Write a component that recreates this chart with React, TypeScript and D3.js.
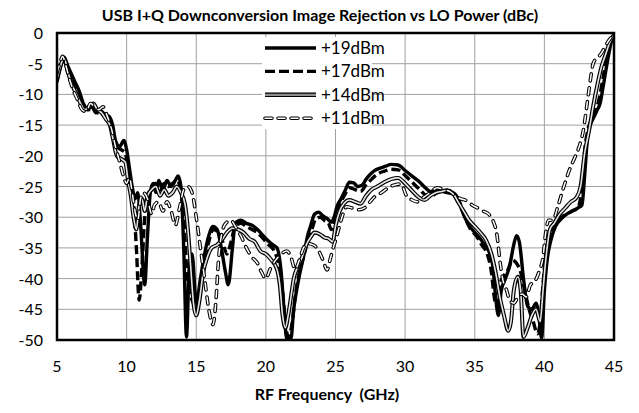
import React, { useEffect, useRef } from "react";
import * as d3 from "d3";

const xTicks = [5, 10, 15, 20, 25, 30, 35, 40, 45];
const yTicks = [0, -5, -10, -15, -20, -25, -30, -35, -40, -45, -50];
const seriesNames = ["+19dBm", "+17dBm", "+14dBm", "+11dBm"];

// [GHz, dBc]
const p19 = [
  [5.0, -8], [5.2, -6], [5.5, -4], [5.8, -5.5], [6.0, -6.5], [6.3, -8], [6.6, -9.5], [6.9, -11.5], [7.2, -12.5], [7.5, -12],
  [7.8, -13], [8.1, -12.5], [8.4, -13.5], [8.7, -13.5], [9.0, -15], [9.2, -17.5], [9.5, -18.5], [9.8, -17.5], [10.0, -19],
  [10.2, -22], [10.4, -25], [10.6, -27], [10.8, -26], [11.0, -31], [11.3, -41], [11.5, -33], [11.7, -26], [11.9, -24.5],
  [12.1, -26], [12.3, -24], [12.6, -25.5], [12.9, -24], [13.2, -25], [13.5, -24], [13.7, -23.3], [13.9, -25], [14.1, -35],
  [14.3, -49.5], [14.5, -38], [14.7, -36], [15.0, -44], [15.3, -40], [15.6, -36], [15.9, -33], [16.2, -31.5], [16.5, -32],
  [16.8, -35], [17.1, -39], [17.3, -41], [17.6, -35], [17.8, -31], [18.2, -30.5], [18.6, -31], [19.0, -31.3], [19.4, -32],
  [19.8, -33], [20.1, -33.7], [20.5, -34.5], [20.8, -35], [21.1, -39], [21.3, -45], [21.5, -49.8], [21.8, -49.8], [22.0, -45],
  [22.2, -42], [22.5, -38.5], [22.7, -36.5], [23.0, -33], [23.2, -31.5], [23.5, -29.5], [23.8, -29.2], [24.1, -29.8],
  [24.4, -30.2], [24.7, -30.8], [24.9, -30], [25.1, -28.3], [25.4, -27], [25.7, -25.6], [26.0, -24.3], [26.3, -24.4],
  [26.6, -25], [26.9, -24.8], [27.2, -23.8], [27.5, -23], [27.8, -22.4], [28.2, -22], [28.6, -21.7], [29.0, -21.4],
  [29.5, -21.5], [30.0, -22.4], [30.5, -23.3], [31.0, -24.2], [31.5, -25.3], [31.8, -25.8], [32.2, -25.6], [32.6, -25.7],
  [33.0, -26], [33.4, -26], [33.8, -27], [34.1, -29], [34.5, -31], [35.0, -32.5], [35.4, -33.5], [35.7, -34.5], [36.0, -35.5],
  [36.3, -38], [36.5, -43], [36.7, -46], [36.9, -42], [37.2, -40], [37.5, -38], [37.8, -34.5], [38.0, -33], [38.2, -34],
  [38.5, -40], [38.8, -44.5], [39.1, -45], [39.4, -44], [39.6, -46], [39.8, -49.7], [40.0, -42], [40.2, -37], [40.5, -33.5],
  [40.8, -31.5], [41.2, -30.3], [41.6, -29.5], [42.0, -29], [42.4, -28.5], [42.7, -28], [42.9, -23], [43.1, -17], [43.3, -15],
  [43.6, -13.5], [43.8, -12.5], [44.0, -11.5], [44.2, -9], [44.5, -5], [44.8, -1.5], [45.0, -0.3],
];

const p17 = [
  [5.0, -7], [5.3, -5], [5.5, -4.5], [5.8, -6], [6.1, -7.5], [6.4, -9], [6.7, -10.5], [7.0, -12], [7.3, -12.5], [7.6, -12],
  [7.9, -13], [8.2, -12.8], [8.5, -13.5], [8.8, -14], [9.0, -16], [9.3, -18.5], [9.6, -19], [9.9, -19.5], [10.1, -22.5],
  [10.3, -25.5], [10.5, -28], [10.7, -35], [10.9, -43.5], [11.1, -38], [11.3, -30], [11.5, -27], [11.8, -25], [12.1, -24.5],
  [12.4, -25.5], [12.7, -24.5], [13.0, -25], [13.3, -24.5], [13.6, -24], [13.9, -25.5], [14.1, -30], [14.3, -38], [14.5, -42],
  [14.8, -44], [15.0, -45], [15.3, -42], [15.6, -37], [15.9, -34], [16.2, -32], [16.6, -32.5], [16.9, -34], [17.2, -36],
  [17.5, -34], [17.8, -31.5], [18.2, -31], [18.6, -31.5], [19.0, -32], [19.4, -32.5], [19.8, -33.5], [20.2, -34.5],
  [20.6, -35.5], [20.9, -37.5], [21.2, -42], [21.4, -47], [21.6, -49.5], [21.9, -47], [22.1, -43], [22.4, -39], [22.7, -36.5],
  [23.0, -34], [23.3, -32], [23.6, -30.2], [23.9, -30], [24.2, -30.5], [24.5, -31], [24.7, -32], [24.9, -31], [25.1, -29],
  [25.4, -27.5], [25.7, -26.2], [26.0, -25.2], [26.4, -25.5], [26.8, -25.8], [27.2, -24.7], [27.6, -23.8], [28.0, -23],
  [28.5, -22.5], [29.0, -22.2], [29.5, -22.3], [30.0, -23.2], [30.5, -24.3], [31.0, -25.4], [31.5, -26.4], [31.9, -26.5],
  [32.3, -26], [32.7, -25.8], [33.1, -26], [33.5, -26.3], [33.9, -27.5], [34.3, -30], [34.7, -32], [35.1, -33], [35.5, -34.5],
  [35.9, -36], [36.2, -39], [36.4, -43], [36.6, -44.5], [36.8, -41], [37.1, -39.5], [37.4, -38.5], [37.7, -37], [38.0, -37.5],
  [38.3, -39], [38.6, -42], [38.9, -45], [39.2, -47], [39.5, -49], [39.7, -47], [39.9, -41], [40.1, -36], [40.4, -33],
  [40.8, -31], [41.2, -30], [41.6, -29.5], [42.0, -29], [42.4, -28.5], [42.7, -25], [42.9, -19], [43.1, -16], [43.4, -14],
  [43.7, -12.5], [43.9, -11], [44.2, -7.5], [44.5, -3.5], [44.8, -1], [45.0, -0.3],
];

const p14 = [
  [5.0, -7.5], [5.3, -5], [5.5, -4], [5.8, -6.5], [6.1, -8.5], [6.4, -10], [6.7, -11.5], [7.0, -12.5], [7.3, -12], [7.6, -11.5],
  [7.9, -12.5], [8.2, -13], [8.5, -14], [8.8, -15], [9.0, -17], [9.3, -20], [9.6, -20.5], [9.9, -21], [10.1, -24], [10.3, -26.5],
  [10.5, -30], [10.7, -32], [10.9, -28], [11.1, -27], [11.3, -29], [11.5, -26.5], [11.8, -25.5], [12.1, -25], [12.4, -26.5],
  [12.7, -25.5], [13.0, -26.5], [13.3, -26], [13.6, -25], [13.9, -26], [14.2, -28], [14.4, -32], [14.6, -38], [14.8, -44],
  [15.0, -46], [15.2, -44], [15.5, -39], [15.8, -36.5], [16.1, -35], [16.5, -34.5], [16.9, -33.5], [17.2, -32.5], [17.6, -31.8],
  [18.0, -32], [18.4, -32.5], [18.8, -33.5], [19.2, -34], [19.6, -35.5], [20.0, -36], [20.4, -37], [20.8, -38.5], [21.0, -41],
  [21.2, -46], [21.4, -48], [21.6, -46], [21.8, -43], [22.0, -40], [22.3, -38], [22.6, -36.5], [22.9, -34.5], [23.2, -33.3],
  [23.5, -32.5], [23.9, -32.8], [24.2, -33.3], [24.5, -33.5], [24.8, -34], [25.0, -31.5], [25.3, -29], [25.6, -27.8],
  [26.0, -27.2], [26.4, -27.5], [26.8, -27.8], [27.2, -26.5], [27.6, -25.5], [28.0, -25], [28.5, -24.3], [29.0, -23.8],
  [29.5, -23.6], [30.0, -24.5], [30.5, -25.7], [31.0, -26.8], [31.4, -27.2], [31.8, -26.5], [32.2, -26], [32.6, -25.8],
  [33.0, -25.6], [33.4, -26], [33.8, -27.5], [34.2, -29], [34.6, -30.5], [35.0, -31.5], [35.4, -32.5], [35.8, -33.7],
  [36.2, -36], [36.5, -39], [36.8, -43], [37.1, -46], [37.4, -48.5], [37.6, -47], [37.8, -42], [38.1, -39.7], [38.3, -42],
  [38.5, -49.5], [38.8, -48], [39.1, -46], [39.4, -45], [39.7, -47], [39.9, -42], [40.1, -37], [40.4, -32], [40.7, -31],
  [41.1, -29.5], [41.5, -28.5], [41.9, -27.5], [42.3, -26.8], [42.6, -25], [42.9, -19.5], [43.2, -16], [43.5, -12],
  [43.8, -8.5], [44.1, -5.5], [44.4, -3.5], [44.7, -1.5], [45.0, -0.3],
];

const p11 = [
  [5.0, -6.5], [5.2, -5], [5.4, -3.8], [5.6, -5], [5.9, -7.5], [6.2, -9.5], [6.5, -11], [6.8, -12.5], [7.1, -12.8], [7.4, -11.5],
  [7.7, -12], [8.0, -12.5], [8.3, -12], [8.6, -13.5], [8.9, -15.5], [9.2, -18.5], [9.5, -21], [9.8, -23.5], [10.0, -24.5],
  [10.2, -23.5], [10.4, -26], [10.6, -29], [10.8, -30.5], [11.0, -27], [11.2, -26], [11.5, -27], [11.8, -29.5], [12.0, -28],
  [12.3, -27.5], [12.6, -29], [12.9, -27.5], [13.2, -29], [13.5, -31.3], [13.8, -28.5], [14.1, -25.5], [14.4, -25], [14.7, -26],
  [15.0, -30], [15.3, -35], [15.6, -40], [15.9, -45], [16.2, -47.5], [16.4, -44], [16.6, -37], [16.9, -32], [17.2, -30.8],
  [17.5, -30.5], [17.8, -31.5], [18.2, -33], [18.6, -35], [19.0, -36.5], [19.4, -37.5], [19.7, -39], [20.0, -40], [20.3, -38.5],
  [20.7, -37], [21.1, -36], [21.5, -35.5], [21.8, -36.5], [22.1, -38.5], [22.4, -37], [22.7, -35], [23.0, -34.3], [23.4, -34.5],
  [23.8, -35.5], [24.1, -37], [24.4, -38.6], [24.6, -37], [24.8, -35.3], [25.1, -33], [25.4, -30.5], [25.8, -28.3],
  [26.2, -28.5], [26.6, -28.8], [27.0, -28.6], [27.4, -27.7], [27.8, -26.7], [28.3, -26], [28.8, -25.2], [29.3, -24.7],
  [29.7, -24.6], [30.1, -26.5], [30.5, -27.2], [30.9, -27.5], [31.3, -26.8], [31.8, -26], [32.3, -25.2], [32.8, -25.5],
  [33.2, -25.8], [33.6, -26.5], [34.0, -27], [34.4, -27.3], [34.8, -28], [35.2, -28.5], [35.6, -29], [36.0, -29.5],
  [36.3, -30.5], [36.6, -33], [36.8, -37], [37.0, -40], [37.3, -42], [37.5, -43.5], [37.8, -44], [38.1, -43], [38.4, -42.5],
  [38.7, -43], [39.0, -41], [39.3, -40.5], [39.6, -39], [39.9, -36.5], [40.1, -32.5], [40.3, -30.5], [40.6, -30.5], [41.0, -28],
  [41.4, -25], [41.8, -22.3], [42.2, -20.2], [42.5, -18.5], [42.8, -15.8], [43.1, -11], [43.3, -7.7], [43.5, -5], [43.8, -4],
  [44.0, -3.6], [44.3, -2.5], [44.6, -1.3], [44.9, -0.5],
];

const W = 639, H = 413;
const M = { left: 57, right: 25, top: 33, bottom: 73 };
const FONT = "Lato, 'Open Sans', sans-serif";

const App = () => {
  const ref = useRef<SVGSVGElement>(null);

  useEffect(() => {
    const svg = d3.select(ref.current);
    svg.selectAll("*").remove();

    const x = d3.scaleLinear().domain([5, 45]).range([M.left, W - M.right]);
    const y = d3.scaleLinear().domain([-50, 0]).range([H - M.bottom, M.top]);

    svg.append("rect").attr("width", W).attr("height", H).attr("fill", "#fff");

    // grid
    const grid = svg.append("g").attr("stroke", "#a0a0a0").attr("stroke-width", 1);
    xTicks.forEach((t) => grid.append("line").attr("x1", x(t)).attr("x2", x(t)).attr("y1", y(0)).attr("y2", y(-50)));
    yTicks.forEach((t) => grid.append("line").attr("x1", x(5)).attr("x2", x(45)).attr("y1", y(t)).attr("y2", y(t)));

    // tick labels
    svg.append("g").selectAll("text").data(xTicks).enter().append("text")
      .attr("x", (d) => x(d)).attr("y", H - M.bottom + 32)
      .attr("text-anchor", "middle").style("font", `16px ${FONT}`).text((d) => d);
    svg.append("g").selectAll("text").data(yTicks).enter().append("text")
      .attr("x", M.left - 14).attr("y", (d) => y(d) + 6)
      .attr("text-anchor", "end").style("font", `16px ${FONT}`).text((d) => d);

    // titles
    svg.append("text").attr("x", 320).attr("y", 21).attr("text-anchor", "middle")
      .style("font", `bold 16px ${FONT}`).text("USB I+Q Downconversion Image Rejection vs LO Power (dBc)");
    svg.append("text").attr("x", 327).attr("y", 400).attr("text-anchor", "middle")
      .style("font", `bold 16px ${FONT}`).style("white-space", "pre").text("RF Frequency  (GHz)");

    svg.append("clipPath").attr("id", "plotClip").append("rect")
      .attr("x", x(5)).attr("y", y(0)).attr("width", x(45) - x(5)).attr("height", y(-50) - y(0));

    const line = d3.line<number[]>().x((d) => x(d[0])).y((d) => y(d[1])).curve(d3.curveMonotoneX);
    const plot = svg.append("g").attr("clip-path", "url(#plotClip)").attr("fill", "none")
      .attr("stroke-linejoin", "round");

    const styles = [
      [{ stroke: "#000", width: 3.4, dash: null, cap: "butt" }],
      [{ stroke: "#000", width: 3.4, dash: "9,4", cap: "butt" }],
      [{ stroke: "#000", width: 4, dash: null, cap: "butt" }, { stroke: "#e6e6e6", width: 1.6, dash: null, cap: "butt" }],
      [{ stroke: "#000", width: 3.6, dash: "7,7", cap: "round" }, { stroke: "#fff", width: 1.5, dash: "7,7", cap: "round" }],
    ];
    const data = [p19, p17, p14, p11];

    data.forEach((d, i) => {
      styles[i].forEach((s) => {
        plot.append("path").attr("d", line(d)).attr("stroke", s.stroke).attr("stroke-width", s.width)
          .attr("stroke-dasharray", s.dash).attr("stroke-linecap", s.cap);
      });
    });

    // border
    svg.append("rect").attr("x", x(5)).attr("y", y(0)).attr("width", x(45) - x(5)).attr("height", y(-50) - y(0))
      .attr("fill", "none").attr("stroke", "#000").attr("stroke-width", 2.5);

    // legend
    const lg = svg.append("g");
    lg.append("rect").attr("x", 262).attr("y", 37).attr("width", 110).attr("height", 92).attr("fill", "#fff");
    seriesNames.forEach((name, i) => {
      const ly = 48 + i * 23.4;
      styles[i].forEach((s, j) => {
        lg.append("line").attr("x1", 265).attr("x2", 316).attr("y1", ly).attr("y2", ly)
          .attr("stroke", i === 2 && j === 1 ? "#909090" : s.stroke)
          .attr("stroke-width", i === 2 ? s.width + 0.6 : s.width)
          .attr("stroke-dasharray", s.dash ? (i === 3 ? "7,6" : "10,4") : null)
          .attr("stroke-linecap", s.cap);
      });
      lg.append("text").attr("x", 321).attr("y", ly + 6).style("font", `17px ${FONT}`).text(name);
    });
  }, []);

  return (
    <svg ref={ref} width={W} height={H} style={{ position: "absolute", left: 0, top: 0, display: "block" }} />
  );
};

export default App;
